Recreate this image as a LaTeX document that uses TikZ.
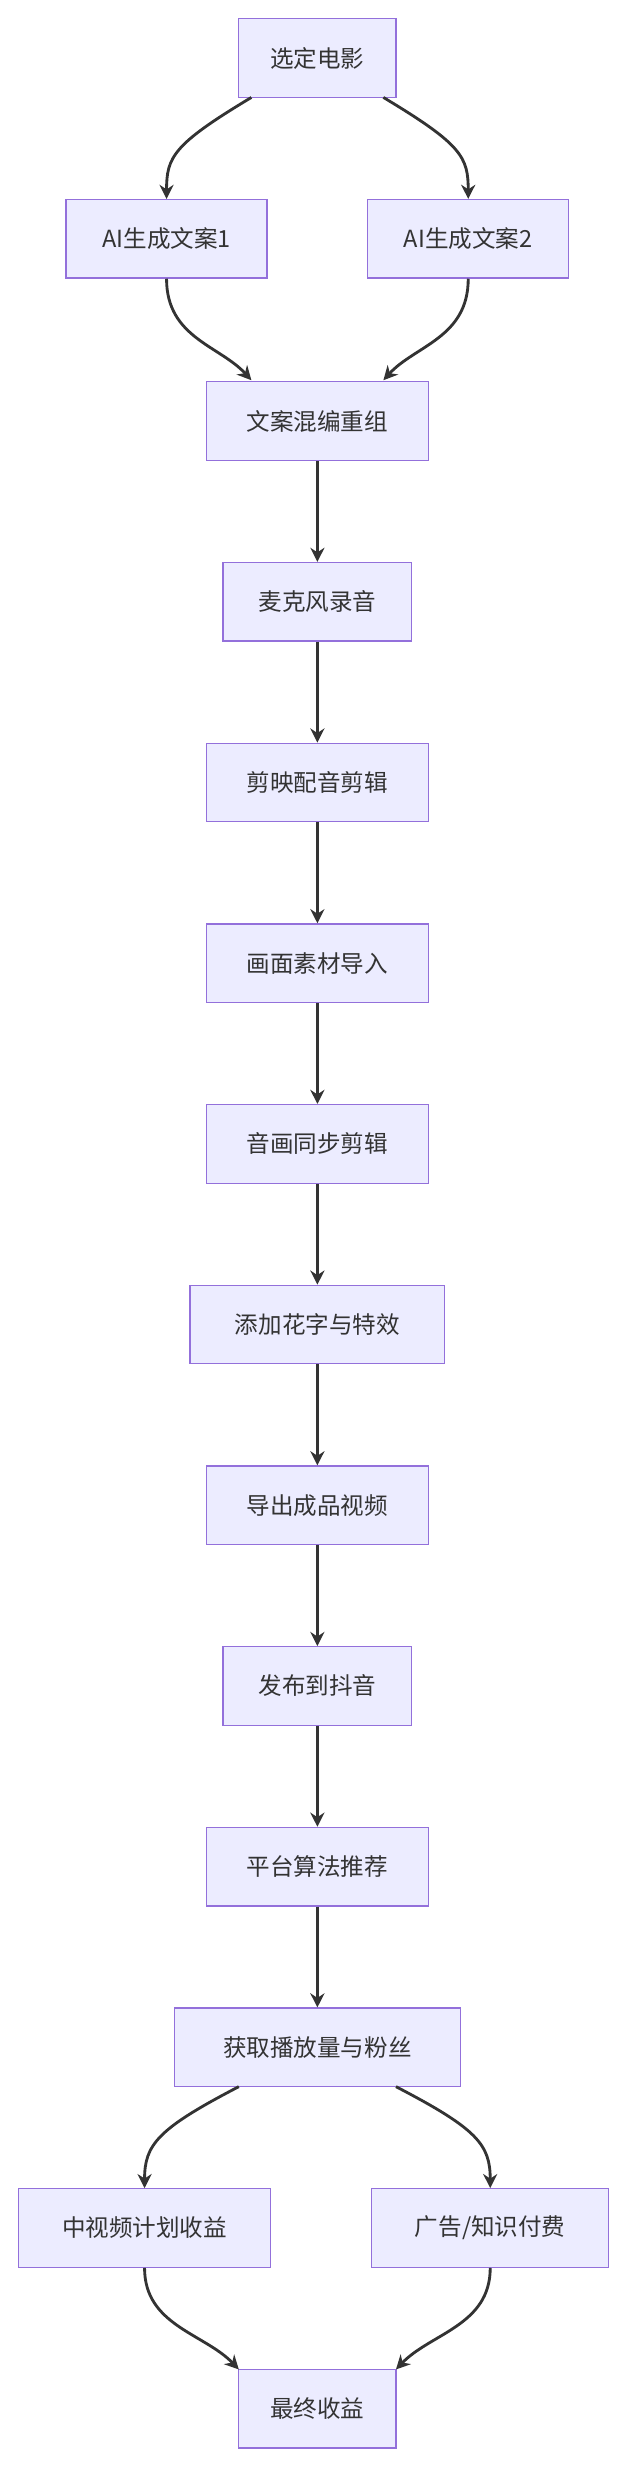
\documentclass[tikz,border=0pt]{standalone}
\usepackage{fontspec}
\setmainfont{Noto Sans CJK SC}
\usetikzlibrary{arrows.meta}
\definecolor{nf}{HTML}{ECECFF}
\definecolor{nd}{HTML}{9370DB}
\definecolor{ln}{HTML}{333333}
\begin{document}
\begin{tikzpicture}[x=1pt,y=-1pt,
  box/.style={draw=nd,fill=nf,line width=0.8pt,minimum height=50pt,inner xsep=10pt,font=\fontsize{15}{18}\selectfont,text=ln},
  ar/.style={draw=ln,line width=1.8pt,-{Stealth[length=9pt,width=9pt]}}]
\useasboundingbox (0,0) rectangle (400,1572);
\node[box,minimum width=100pt] (a) at (202,37) {选定电影};
\node[box,minimum width=128pt] (b1) at (106,152) {AI生成文案1};
\node[box,minimum width=128pt] (b2) at (298,152) {AI生成文案2};
\node[box,minimum width=141pt] (c) at (202,268) {文案混编重组};
\node[box,minimum width=120pt] (d) at (202,383) {麦克风录音};
\node[box,minimum width=141pt] (e) at (202,498) {剪映配音剪辑};
\node[box,minimum width=141pt] (f) at (202,613) {画面素材导入};
\node[box,minimum width=141pt] (g) at (202,728) {音画同步剪辑};
\node[box,minimum width=162pt] (h) at (202,843) {添加花字与特效};
\node[box,minimum width=141pt] (i) at (202,958) {导出成品视频};
\node[box,minimum width=120pt] (j) at (202,1073) {发布到抖音};
\node[box,minimum width=141pt] (k) at (202,1188) {平台算法推荐};
\node[box,minimum width=182pt] (l) at (202,1303) {获取播放量与粉丝};
\node[box,minimum width=160pt] (m1) at (92,1418) {中视频计划收益};
\node[box,minimum width=151pt] (m2) at (312,1418) {广告/知识付费};
\node[box,minimum width=100pt] (n) at (202,1533) {最终收益};
\draw[ar] (160,62) .. controls (110,92) and (106,100) .. (b1.north);
\draw[ar] (244,62) .. controls (294,92) and (298,100) .. (b2.north);
\draw[ar] (b1.south) .. controls (106,215) and (140,220) .. (160,242);
\draw[ar] (b2.south) .. controls (298,215) and (264,220) .. (244,242);
\foreach \p/\q in {c/d,d/e,e/f,f/g,g/h,h/i,i/j,j/k,k/l} \draw[ar] (\p) -- (\q);
\draw[ar] (152,1328) .. controls (100,1355) and (92,1365) .. (m1.north);
\draw[ar] (252,1328) .. controls (304,1355) and (312,1365) .. (m2.north);
\draw[ar] (m1.south) .. controls (92,1480) and (130,1485) .. (152,1508);
\draw[ar] (m2.south) .. controls (312,1480) and (274,1485) .. (252,1508);
\end{tikzpicture}
\end{document}
